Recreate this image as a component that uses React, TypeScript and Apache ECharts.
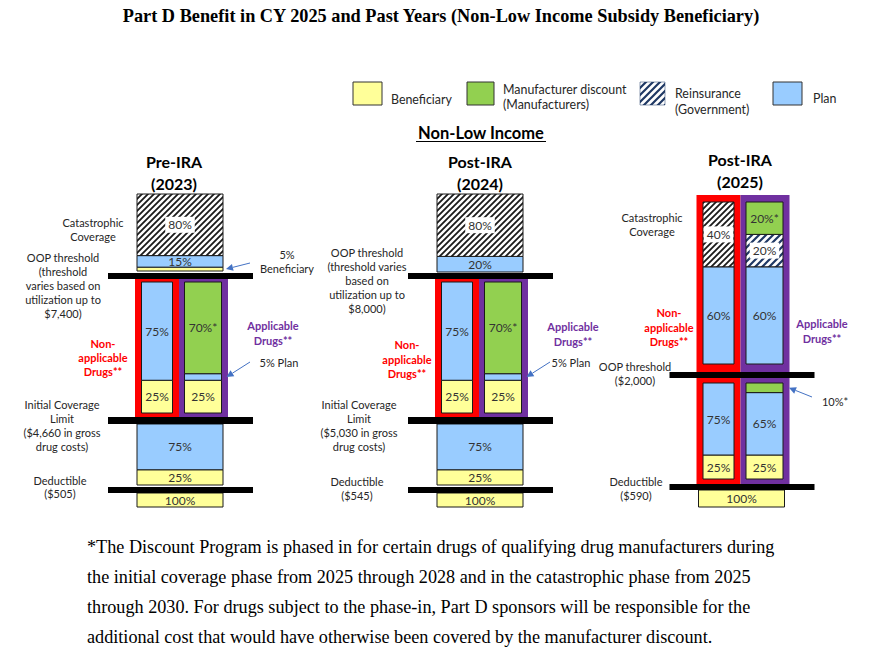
import React, { useEffect, useRef } from "react";
import * as echarts from "echarts";

// ---------------- data ----------------
const chartTitle = "Part D Benefit in CY 2025 and Past Years (Non-Low Income Subsidy Beneficiary)";
const sectionTitle = "Non-Low Income";
const columnTitles = ["Pre-IRA\n(2023)", "Post-IRA\n(2024)", "Post-IRA\n(2025)"];
const payers = ["Beneficiary", "Manufacturer", "Reinsurance", "Plan"];
const legendLabels = ["Beneficiary", "Manufacturer discount\n(Manufacturers)", "Reinsurance\n(Government)", "Plan"];
const phases = ["deductible", "initial", "gap", "catastrophic"];
const lanes = ["all", "nonApplicable", "applicable"];
const laneLabels = ["", "Non-\napplicable\nDrugs**", "Applicable\nDrugs**"];

// [phase, lane, payer, share %], listed bottom to top
const segments2023 = [
  ["deductible", "all", "Beneficiary", 100],
  ["initial", "all", "Beneficiary", 25],
  ["initial", "all", "Plan", 75],
  ["gap", "nonApplicable", "Beneficiary", 25],
  ["gap", "nonApplicable", "Plan", 75],
  ["gap", "applicable", "Beneficiary", 25],
  ["gap", "applicable", "Plan", 5],
  ["gap", "applicable", "Manufacturer", 70],
  ["catastrophic", "all", "Beneficiary", 5],
  ["catastrophic", "all", "Plan", 15],
  ["catastrophic", "all", "Reinsurance", 80],
];
const segments2024 = [
  ["deductible", "all", "Beneficiary", 100],
  ["initial", "all", "Beneficiary", 25],
  ["initial", "all", "Plan", 75],
  ["gap", "nonApplicable", "Beneficiary", 25],
  ["gap", "nonApplicable", "Plan", 75],
  ["gap", "applicable", "Beneficiary", 25],
  ["gap", "applicable", "Plan", 5],
  ["gap", "applicable", "Manufacturer", 70],
  ["catastrophic", "all", "Plan", 20],
  ["catastrophic", "all", "Reinsurance", 80],
];
const segments2025 = [
  ["deductible", "all", "Beneficiary", 100],
  ["initial", "nonApplicable", "Beneficiary", 25],
  ["initial", "nonApplicable", "Plan", 75],
  ["initial", "applicable", "Beneficiary", 25],
  ["initial", "applicable", "Plan", 65],
  ["initial", "applicable", "Manufacturer", 10],
  ["catastrophic", "nonApplicable", "Plan", 60],
  ["catastrophic", "nonApplicable", "Reinsurance", 40],
  ["catastrophic", "applicable", "Plan", 60],
  ["catastrophic", "applicable", "Reinsurance", 20],
  ["catastrophic", "applicable", "Manufacturer", 20],
];
const allSegments = [segments2023, segments2024, segments2025];

const phaseNotes2023 = [
  "Deductible\n($505)",
  "Initial Coverage\nLimit\n($4,660 in gross\ndrug costs)",
  "OOP threshold\n(threshold\nvaries based on\nutilization up to\n$7,400)",
  "Catastrophic\nCoverage",
];
const phaseNotes2024 = [
  "Deductible\n($545)",
  "Initial Coverage\nLimit\n($5,030 in gross\ndrug costs)",
  "OOP threshold\n(threshold varies\nbased on\nutilization up to\n$8,000)",
];
const phaseNotes2025 = ["Deductible\n($590)", "OOP threshold\n($2,000)", "Catastrophic\nCoverage"];

const footnoteLines = [
  "*The Discount Program is phased in for certain drugs of qualifying drug manufacturers during",
  "the initial coverage phase from 2025 through 2028 and in the catastrophic phase from 2025",
  "through 2030. For drugs subject to the phase-in, Part D sponsors will be responsible for the",
  "additional cost that would have otherwise been covered by the manufacturer discount.",
];

// ---------------- layout & style ----------------
const W = 870;
const H = 655;
const FONT = "Lato, 'Noto Sans', sans-serif";
const SERIF = "'Liberation Serif', 'Times New Roman', serif";
const TXT = "#262626";
const RED = "#FF0000";
const PURPLE = "#7030A0";
const ARROW = "#4472C4";
const NAVY = "#1F3864";
const FILL = { Beneficiary: "#FFFF99", Manufacturer: "#92D050", Plan: "#99CCFF" };

const COL_X = [180, 480, 741.5];
const LANE_X = { all: [-43, 43], nonApplicable: [-38.5, -7.5], applicable: [4.5, 41.5] };
const PHASE_Y = [
  { deductible: [493, 507], initial: [424, 485], gap: [282, 413], catastrophic: [194, 271] },
  { deductible: [493, 507], initial: [424, 485], gap: [282, 413], catastrophic: [194, 272] },
  { deductible: [490, 507], initial: [383, 479], catastrophic: [202, 364] },
];
const FRAMES_Y = [[[279, 417]], [[279, 417]], [[195, 372], [378, 484]]];
const BARS_Y = [
  [[273, 279], [417, 424], [487, 493]],
  [[273, 279], [417, 424], [487, 493]],
  [[372, 378], [484, 490]],
];
const TITLE_POS = [[174, 172], [480, 172], [740, 170]];
const NOTE_POS = [
  [[60, 486.5, 13], [62, 425.5, 13.8], [63, 285.5, 13.9], [93, 229, 14]],
  [[357, 488, 14], [359, 425.5, 13.8], [367, 280, 14]],
  [[636, 488, 14], [635, 373, 14], [652, 224, 14]],
];
const LANE_LABEL_POS = [
  [null, [103, 357.5], [273, 333]],
  [null, [407, 359], [573, 334]],
  [null, [669, 327], [822, 331]],
];
// callouts: column, segment index, text format, text position, arrow start, arrow gap from lane
const CALLOUTS = [
  { col: 0, seg: 8, fmt: (s, p) => `${s}%\n${p}`, pos: [287, 261], from: [250, 263], gap: 3 },
  { col: 0, seg: 6, fmt: (s, p) => `${s}% ${p}`, pos: [279, 362], from: [250, 362], gap: 5 },
  { col: 1, seg: 6, fmt: (s, p) => `${s}% ${p}`, pos: [571, 362], from: [550, 362], gap: 5 },
  { col: 2, seg: 5, fmt: (s) => `${s}%*`, pos: [835, 401], from: [812, 397], gap: 6 },
];
const LEGEND_BOX_X = [[353, 29], [467, 27], [640, 25], [773, 29]];
const LEGEND_TEXT_POS = [[391, 99.5, 14], [503, 97, 14.2], [675, 101.5, 15.5], [813, 98, 14]];

function hatch(color, size, width) {
  const s = size;
  const svg =
    `<svg xmlns='http://www.w3.org/2000/svg' width='${s}' height='${s}'>` +
    `<rect width='${s}' height='${s}' fill='white'/>` +
    `<path d='M0,${s} L${s},0 M${-s / 2},${s / 2} L${s / 2},${-s / 2} M${s / 2},${s * 1.5} L${s * 1.5},${s / 2}' ` +
    `stroke='${color}' stroke-width='${width}'/></svg>`;
  return {
    image: "data:image/svg+xml;charset=utf-8," + encodeURIComponent(svg),
    repeat: "repeat",
    imageWidth: s,
    imageHeight: s,
  };
}
const HATCH_BLACK = hatch("#1a1a1a", 6, 1.8);
const HATCH_NAVY = hatch(NAVY, 7, 2.2);

function segRect(c, ph, lane, s0, s1) {
  const cx = COL_X[c];
  const [lx0, lx1] = LANE_X[lanes[lane]];
  const [yt, yb] = PHASE_Y[c][phases[ph]];
  return [cx + lx0, yb - ((yb - yt) * s1) / 100, cx + lx1, yb - ((yb - yt) * s0) / 100];
}

const seriesData = [];
const segIndexMap = [];
allSegments.forEach((segs, c) => {
  const cum = {};
  segIndexMap.push([]);
  segs.forEach(([ph, lane, payer, share]) => {
    const key = ph + "|" + lane;
    const s0 = cum[key] || 0;
    cum[key] = s0 + share;
    const row = [c, phases.indexOf(ph), lanes.indexOf(lane), payers.indexOf(payer), s0, s0 + share, share];
    segIndexMap[c].push(row);
    seriesData.push(row);
  });
});

function arrow(x1, y1, x2, y2) {
  const dx = x2 - x1;
  const dy = y2 - y1;
  const len = Math.hypot(dx, dy);
  const ux = dx / len;
  const uy = dy / len;
  const hl = 7;
  const hw = 3.5;
  const bx = x2 - ux * hl;
  const by = y2 - uy * hl;
  return [
    { type: "line", z: 10, shape: { x1, y1, x2: bx, y2: by }, style: { stroke: ARROW, lineWidth: 1 } },
    {
      type: "polygon",
      z: 10,
      shape: { points: [[x2, y2], [bx - uy * hw, by + ux * hw], [bx + uy * hw, by - ux * hw]] },
      style: { fill: ARROW },
    },
  ];
}

function text(x, y, str, opts = {}) {
  return {
    type: "text",
    z: 10,
    x,
    y,
    style: {
      text: str,
      fill: opts.fill || TXT,
      fontSize: opts.size || 11,
      fontWeight: opts.weight || "normal",
      fontFamily: opts.family || FONT,
      align: opts.align || "center",
      verticalAlign: "middle",
      lineHeight: opts.lh || 14,
    },
  };
}

function buildGraphic() {
  const g = [];
  g.push(text(441, 16, chartTitle, { size: 18.3, weight: "bold", family: SERIF, fill: "#000", lh: 20 }));
  // legend
  payers.forEach((p, i) => {
    const [bx, bw] = LEGEND_BOX_X[i];
    const fill = p === "Reinsurance" ? HATCH_NAVY : FILL[p];
    g.push({
      type: "rect",
      z: 10,
      shape: { x: bx, y: 82, width: bw, height: 23 },
      style: { fill, stroke: p === "Reinsurance" ? NAVY : "#333", lineWidth: p === "Reinsurance" ? 0.5 : 1 },
    });
    const [tx, ty, lh] = LEGEND_TEXT_POS[i];
    g.push(text(tx, ty, legendLabels[i], { size: 12.4, align: "left", lh }));
  });
  g.push(text(481, 133, sectionTitle, { size: 16.5, weight: "bold", fill: "#000", lh: 18 }));
  g.push({ type: "line", z: 10, shape: { x1: 416, y1: 141.5, x2: 546, y2: 141.5 }, style: { stroke: "#000", lineWidth: 1.2 } });

  const notes = [phaseNotes2023, phaseNotes2024, phaseNotes2025];
  COL_X.forEach((cx, c) => {
    const [tx, ty] = TITLE_POS[c];
    g.push(text(tx, ty, columnTitles[c], { size: 16, weight: "bold", fill: "#000", lh: 22 }));
    FRAMES_Y[c].forEach(([y0, y1]) => {
      g.push({ type: "rect", z: 1, shape: { x: cx - 45, y: y0, width: 44, height: y1 - y0 }, style: { fill: RED } });
      g.push({ type: "rect", z: 1, shape: { x: cx - 1, y: y0, width: 49, height: y1 - y0 }, style: { fill: PURPLE } });
    });
    BARS_Y[c].forEach(([y0, y1]) => {
      g.push({ type: "rect", z: 8, shape: { x: cx - 72, y: y0, width: 145, height: y1 - y0 }, style: { fill: "#000" } });
    });
    notes[c].forEach((n, i) => {
      const [nx, ny, lh] = NOTE_POS[c][i];
      g.push(text(nx, ny, n, { lh }));
    });
    LANE_LABEL_POS[c].forEach((pos, li) => {
      if (!pos) return;
      g.push(text(pos[0], pos[1], laneLabels[li], { weight: "bold", fill: li === 1 ? RED : PURPLE, lh: 14.3 }));
    });
  });

  CALLOUTS.forEach((co) => {
    const row = segIndexMap[co.col][co.seg];
    const [, y0, x1, y1] = segRect(row[0], row[1], row[2], row[4], row[5]);
    const ty = (y0 + y1) / 2;
    g.push(text(co.pos[0], co.pos[1], co.fmt(row[6], payers[row[3]]), { lh: 14 }));
    g.push(...arrow(co.from[0], co.from[1], x1 + co.gap, ty));
  });

  footnoteLines.forEach((l, i) => {
    g.push(text(87, 547 + i * 30, l, { size: 18.2, family: SERIF, fill: "#000", align: "left", lh: 20 }));
  });
  return g;
}

function renderItem(params, api) {
  const c = api.value(0);
  const ph = api.value(1);
  const lane = api.value(2);
  const payer = payers[api.value(3)];
  const s0 = api.value(4);
  const s1 = api.value(5);
  const share = api.value(6);
  const [x0, y0, x1, y1] = segRect(c, ph, lane, s0, s1);
  const p0 = api.coord([x0, y0]);
  const p1 = api.coord([x1, y1]);
  let fill = FILL[payer];
  if (payer === "Reinsurance") fill = c === 2 && lanes[lane] === "applicable" ? HATCH_NAVY : HATCH_BLACK;
  const children = [
    {
      type: "rect",
      shape: { x: p0[0], y: p0[1], width: p1[0] - p0[0], height: p1[1] - p0[1] },
      style: { fill, stroke: "#1a1a1a", lineWidth: 1 },
    },
  ];
  if (share >= 12) {
    children.push({
      type: "text",
      x: (p0[0] + p1[0]) / 2,
      y: (p0[1] + p1[1]) / 2,
      style: {
        text: `${share}%${payer === "Manufacturer" ? "*" : ""}`,
        fill: "#333",
        fontSize: 12,
        fontFamily: FONT,
        align: "center",
        verticalAlign: "middle",
        backgroundColor: payer === "Reinsurance" ? "#fff" : undefined,
        padding: payer === "Reinsurance" ? [2, 3] : 0,
      },
    });
  }
  return { type: "group", children };
}

const option = {
  animation: false,
  backgroundColor: "#fff",
  grid: { left: 0, right: 0, top: 0, bottom: 0 },
  xAxis: { type: "value", min: 0, max: W, show: false },
  yAxis: { type: "value", min: 0, max: H, inverse: true, show: false },
  series: [
    {
      type: "custom",
      z: 3,
      renderItem,
      data: seriesData,
      silent: true,
    },
  ],
  graphic: buildGraphic(),
};

export default function App() {
  const ref = useRef(null);
  useEffect(() => {
    const chart = echarts.init(ref.current, null, { renderer: "svg" });
    chart.setOption(option);
    return () => chart.dispose();
  }, []);
  return (
    <div
      ref={ref}
      style={{ position: "absolute", left: 0, top: 0, width: W, height: H, background: "#fff" }}
    />
  );
}
